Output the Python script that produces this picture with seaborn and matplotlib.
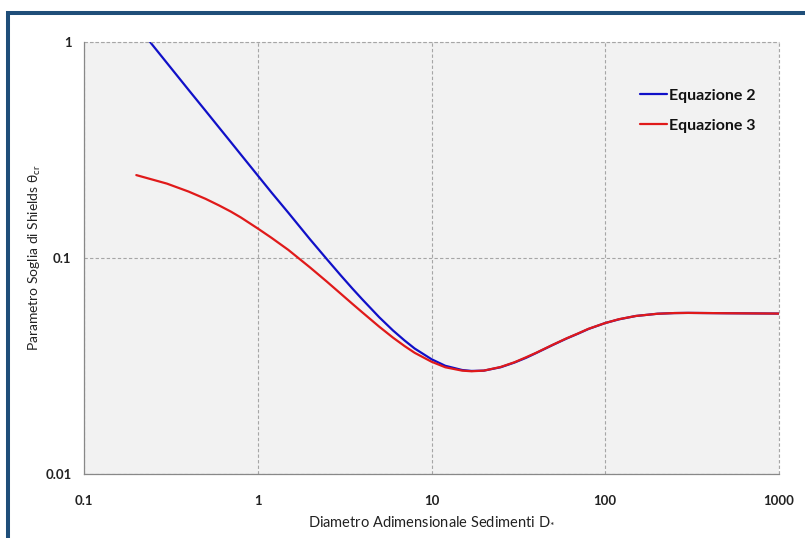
import matplotlib
matplotlib.use("Agg")
import matplotlib.pyplot as plt
import matplotlib.ticker as mticker
from matplotlib.patches import Rectangle
import seaborn as sns
import pandas as pd

# ---- data ----
d_eq2 = [0.24, 0.3, 0.4, 0.5, 0.6, 0.7, 0.8, 1, 1.2, 1.5, 2, 2.5, 3, 3.5, 4, 5, 6, 7, 8, 10, 12, 15, 17, 20, 25,
         30, 35, 40, 50, 60, 70, 80, 100, 120, 150, 200, 250, 300, 500, 1000]
theta_eq2 = [1.000, 0.800, 0.600, 0.481, 0.401, 0.344, 0.301, 0.241, 0.201, 0.162, 0.122, 0.0987, 0.0832, 0.0723,
             0.0643, 0.0532, 0.0462, 0.0415, 0.0381, 0.0340, 0.0317, 0.0303, 0.0300, 0.0301, 0.0312,
             0.0328, 0.0345, 0.0363, 0.0396, 0.0424, 0.0447, 0.0469, 0.0500, 0.0520, 0.0539, 0.0552, 0.0556,
             0.0557, 0.0555, 0.0553]
d_eq3 = [0.2, 0.3, 0.4, 0.5, 0.6, 0.7, 0.8, 1, 1.2, 1.5, 2, 2.5, 3, 3.5, 4, 5, 6, 7, 8, 10, 12, 15, 17, 20, 25,
         30, 35, 40, 50, 60, 70, 80, 100, 120, 150, 200, 250, 300, 500, 1000]
theta_eq3 = [0.242, 0.221, 0.203, 0.188, 0.175, 0.164, 0.154, 0.137, 0.124, 0.109, 0.0904, 0.0777, 0.0684, 0.0614,
             0.0560, 0.0481, 0.0428, 0.0391, 0.0364, 0.0331, 0.0312, 0.0301, 0.0299, 0.0301, 0.0313,
             0.0329, 0.0347, 0.0364, 0.0397, 0.0425, 0.0448, 0.0470, 0.0500, 0.0521, 0.0539, 0.0552, 0.0556,
             0.0557, 0.0555, 0.0553]
series_names = ["Equazione 2", "Equazione 3"]
x_ticks = [0.1, 1, 10, 100, 1000]
x_tick_labels = ["0.1", "1", "10", "100", "1000"]
y_ticks = [0.01, 0.1, 1]
y_tick_labels = ["0.01", "0.1", "1"]
x_label = "Diametro Adimensionale Sedimenti D$_{*}$"
y_label = "Parametro Soglia di Shields θ$_{\\mathrm{cr}}$"

sns.set_style("white")
plt.rcParams["font.family"] = ["Lato", "DejaVu Sans"]
plt.rcParams["mathtext.fontset"] = "custom"
plt.rcParams["mathtext.rm"] = "Lato"
plt.rcParams["mathtext.it"] = "Lato"
plt.rcParams["mathtext.bf"] = "Lato:bold"

W, H = 805, 538
fig = plt.figure(figsize=(W / 100, H / 100), dpi=100)
fig.patch.set_facecolor("white")
ax = fig.add_axes([84 / W, 1 - 474 / H, (779 - 84) / W, (474 - 42) / H])
ax.set_facecolor("#f2f2f2")

df2 = pd.DataFrame({"D": d_eq2, "theta": theta_eq2})
df3 = pd.DataFrame({"D": d_eq3, "theta": theta_eq3})
sns.lineplot(data=df2, x="D", y="theta", ax=ax, color="#1010c8", linewidth=1.6,
             label=series_names[0], estimator=None, sort=False)
sns.lineplot(data=df3, x="D", y="theta", ax=ax, color="#e01a1a", linewidth=1.6,
             label=series_names[1], estimator=None, sort=False)

ax.set_xscale("log")
ax.set_yscale("log")
ax.set_xlim(0.1, 1000)
ax.set_ylim(0.01, 1)

ax.xaxis.set_major_locator(mticker.FixedLocator(x_ticks))
ax.yaxis.set_major_locator(mticker.FixedLocator(y_ticks))
ax.xaxis.set_minor_locator(mticker.LogLocator(base=10, subs=range(2, 10)))
ax.yaxis.set_minor_locator(mticker.LogLocator(base=10, subs=range(2, 10)))
ax.xaxis.set_minor_formatter(mticker.NullFormatter())
ax.yaxis.set_minor_formatter(mticker.NullFormatter())
ax.set_xticklabels(x_tick_labels, fontsize=9.5, fontweight="bold", color="#222222")
ax.set_yticklabels(y_tick_labels, fontsize=9.5, fontweight="bold", color="#222222")

ax.tick_params(axis="both", which="major", direction="out", length=5, width=0.8, color="#888888", pad=10)
ax.tick_params(axis="both", which="minor", direction="out", length=4, width=0.8, color="#888888")
ax.tick_params(axis="y", which="major", pad=4)

ax.grid(True, which="major", linestyle=(0, (3, 2)), color="#a6a6a6", linewidth=0.8)
ax.grid(False, which="minor")
for s in ["top", "right"]:
    ax.spines[s].set_visible(False)
for s in ["left", "bottom"]:
    ax.spines[s].set_color("#888888")
    ax.spines[s].set_linewidth(0.9)
ax.plot([1, 1], [0, 1], transform=ax.transAxes, linestyle=(0, (3, 2)), color="#a6a6a6", linewidth=0.8, clip_on=False)
ax.plot([0, 1], [1, 1], transform=ax.transAxes, linestyle=(0, (3, 2)), color="#a6a6a6", linewidth=0.8, clip_on=False)

ax.set_xlabel(x_label, fontsize=10.5, color="#222222")
ax.set_ylabel(y_label, fontsize=10, color="#222222")
ax.xaxis.label.set_va("center")
ax.yaxis.label.set_va("center")
ax.xaxis.set_label_coords(0.5, (474 - 521) / 432)
ax.yaxis.set_label_coords((35 - 84) / 695, 0.5)

leg = ax.legend(loc="center left", bbox_to_anchor=((640 - 84) / 695, (474 - 110.5) / 432), frameon=False,
                prop={"size": 11.5, "weight": "bold"}, handlelength=1.7, handletextpad=0.1,
                labelspacing=1.0, borderpad=0, borderaxespad=0)
for t in leg.get_texts():
    t.set_color("#111111")

border = Rectangle((7.5 / W, -0.2), 1.5, 1.2 - 13 / H, transform=fig.transFigure,
                   fill=False, edgecolor="#1f4e79", linewidth=2.9, clip_on=False)
fig.patches.append(border)

fig.savefig("out.png", dpi=100, facecolor="white")
